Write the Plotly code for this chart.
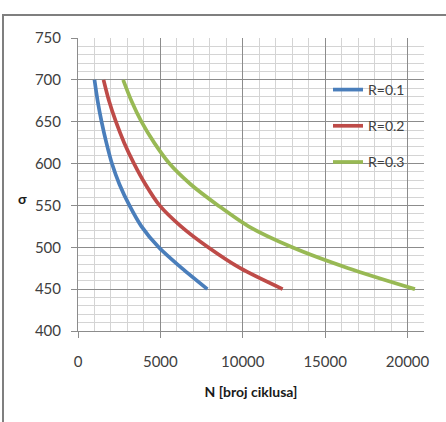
import plotly.graph_objects as go

sigma = [700, 675, 650, 625, 600, 575, 550, 525, 500, 475, 450]
n_r01 = [1000, 1190, 1430, 1720, 2060, 2520, 3120, 3850, 4900, 6300, 7850]
n_r02 = [1550, 1880, 2300, 2800, 3400, 4100, 4950, 6250, 7900, 9850, 12420]
n_r03 = [2740, 3240, 3850, 4620, 5550, 6850, 8500, 10350, 13000, 16400, 20450]

series_names = ["R=0.1", "R=0.2", "R=0.3"]
series_vals = [n_r01, n_r02, n_r03]
colors = ["#4A7EBB", "#BE4B48", "#98B954"]

x_ticks = [0, 5000, 10000, 15000, 20000]
y_ticks = [400, 450, 500, 550, 600, 650, 700, 750]

FONT = "Lato"
fig = go.Figure()
for i, (name, vals) in enumerate(zip(series_names, series_vals)):
    fig.add_trace(go.Scatter(
        x=vals, y=sigma, mode="lines", name=name,
        line=dict(color=colors[i], width=3.7, shape="spline", smoothing=0.8),
        legendgroup=name,
    ))

W, H = 446, 422
L, R, T, B = 78, 22, 38, 91
pw, ph = W - L - R, H - T - B

def px2paper_x(px):
    return (px - L) / pw

def px2paper_y(py):
    return 1 - (py - T) / ph

fig.update_layout(
    width=W, height=H,
    margin=dict(l=L, r=R, t=T, b=B, pad=0),
    paper_bgcolor="white", plot_bgcolor="white",
    font=dict(family=FONT, size=15, color="#404040"),
    showlegend=True,
    legend=dict(
        x=px2paper_x(328), y=px2paper_y(74), xanchor="left", yanchor="top",
        bgcolor="rgba(0,0,0,0)", borderwidth=0,
        font=dict(family=FONT, size=14, color="#404040"),
        tracegroupgap=15, traceorder="grouped", itemwidth=30,
    ),
    xaxis=dict(
        range=[0, 21000], tickvals=x_ticks, ticktext=[str(v) for v in x_ticks],
        showgrid=True, gridcolor="#8C8C8C", gridwidth=1,
        minor=dict(dtick=1000, showgrid=True, gridcolor="#D4D4D4", gridwidth=1),
        showline=True, linecolor="#8C8C8C", linewidth=1,
        ticks="outside", ticklen=6, tickcolor="#8C8C8C",
        ticklabelstandoff=11,
        zeroline=False,
        title=dict(text="<b>N [broj ciklusa]</b>", font=dict(family=FONT, size=14, color="#1a1a1a"), standoff=18),
    ),
    yaxis=dict(
        range=[400, 750], tickvals=y_ticks, ticktext=[str(v) for v in y_ticks],
        showgrid=True, gridcolor="#8C8C8C", gridwidth=1,
        minor=dict(dtick=10, showgrid=True, gridcolor="#D4D4D4", gridwidth=1),
        showline=True, linecolor="#8C8C8C", linewidth=1,
        ticks="outside", ticklen=6, tickcolor="#8C8C8C",
        ticklabelstandoff=7,
        zeroline=False,
    ),
)

fig.add_annotation(
    text="<b>σ</b>", xref="paper", yref="paper",
    x=px2paper_x(16), y=px2paper_y(198), showarrow=False,
    font=dict(family=FONT, size=14, color="#1a1a1a"),
)

fig.add_shape(
    type="rect", xref="paper", yref="paper",
    x0=px2paper_x(3), y0=px2paper_y(440), x1=px2paper_x(470), y1=px2paper_y(15),
    line=dict(color="#7F7F7F", width=2), fillcolor="rgba(0,0,0,0)", layer="above",
)

fig.write_html("out.html")
